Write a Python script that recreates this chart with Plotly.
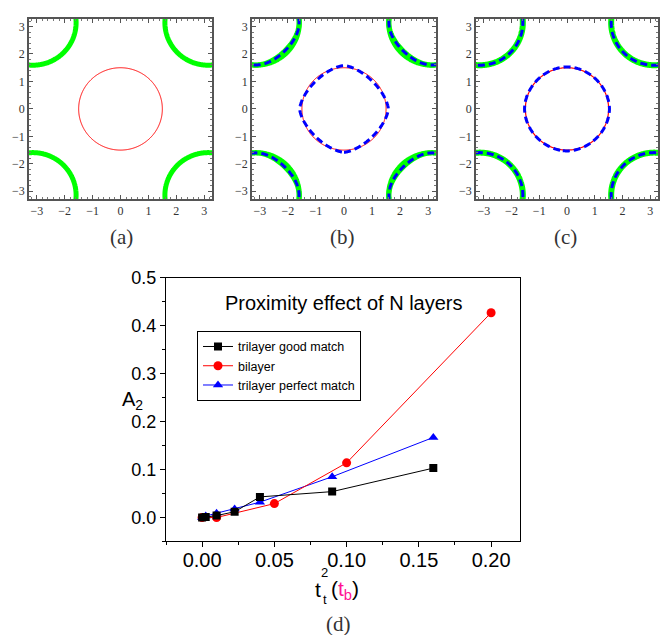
import numpy as np
import plotly.graph_objects as go

# ---------------- data: panel (d) ----------------
good_x = [0.0, 0.0025, 0.01, 0.0225, 0.04, 0.09, 0.16]
good_y = [0.0, 0.001, 0.004, 0.012, 0.043, 0.054, 0.103]
bi_x = [0.0, 0.01, 0.05, 0.10, 0.20]
bi_y = [0.0, 0.0, 0.029, 0.114, 0.427]
perf_x = [0.0, 0.0025, 0.01, 0.0225, 0.04, 0.09, 0.16]
perf_y = [0.0, 0.003, 0.009, 0.018, 0.032, 0.085, 0.167]

# ---------------- Fermi surface parameters: panels (a)-(c) ----------------
red_radius = 1.5            # central circular pocket
corner_radius = 1.55        # corner pockets (circle around (±pi, ±pi))
tb_corner_level = -1.03     # cos kx + cos ky contour near corners
b_center_a, b_center_p = 1.58, 1.55   # hybridised central pocket (b)
c_center_a, c_center_p = 1.53, 1.9    # hybridised central pocket (c)
top_ticks = [-3, -2, -1, 0, 1, 2, 3]

W, H = 668, 635
def px(x):
    return x / W
def py(y):
    return 1 - y / H

k = np.linspace(-3.6, 3.6, 361)
KX, KY = np.meshgrid(k, k)
Z_circle = KX**2 + KY**2
Z_corner = (np.pi - np.abs(KX))**2 + (np.pi - np.abs(KY))**2
Z_tb = np.cos(KX) + np.cos(KY)

def contour(z, level, color, width, dash="solid", xa="x", ya="y"):
    return go.Contour(
        x=k, y=k, z=z, xaxis=xa, yaxis=ya, showscale=False, hoverinfo="skip",
        contours=dict(start=level, end=level, size=1, coloring="none"),
        line=dict(color=color, width=width, dash=dash, smoothing=1),
        showlegend=False,
    )

GREEN = "#00ff00"
RED = "#ff0000"
BLUE = "#0000ff"
DASH = "7px,4px"

traces = []
# (a)
traces.append(contour(Z_corner, corner_radius**2, GREEN, 5, xa="x", ya="y"))
traces.append(contour(Z_circle, red_radius**2, RED, 1, xa="x", ya="y"))
# (b)
traces.append(contour(Z_corner, corner_radius**2, GREEN, 5, xa="x2", ya="y2"))
traces.append(contour(Z_tb, tb_corner_level, GREEN, 5, xa="x2", ya="y2"))
traces.append(contour(Z_tb, tb_corner_level, BLUE, 3, DASH, xa="x2", ya="y2"))
traces.append(contour(Z_circle, red_radius**2, RED, 1, xa="x2", ya="y2"))
Zb = np.abs(KX)**b_center_p + np.abs(KY)**b_center_p
traces.append(contour(Zb, b_center_a**b_center_p, BLUE, 3, DASH, xa="x2", ya="y2"))
# (c)
traces.append(contour(Z_corner, corner_radius**2, GREEN, 6, xa="x3", ya="y3"))
traces.append(contour(Z_corner, corner_radius**2, BLUE, 3, DASH, xa="x3", ya="y3"))
traces.append(contour(Z_circle, red_radius**2, RED, 1.2, xa="x3", ya="y3"))
Zc = np.abs(KX)**c_center_p + np.abs(KY)**c_center_p
traces.append(contour(Zc, c_center_a**c_center_p, BLUE, 3, DASH, xa="x3", ya="y3"))

# (d)
traces.append(go.Scatter(x=perf_x, y=perf_y, mode="lines+markers", name="trilayer perfect match",
                         xaxis="x4", yaxis="y4", legendrank=3,
                         line=dict(color=BLUE, width=1),
                         marker=dict(symbol="triangle-up", size=9, color=BLUE)))
traces.append(go.Scatter(x=bi_x, y=bi_y, mode="lines+markers", name="bilayer",
                         xaxis="x4", yaxis="y4", legendrank=2,
                         line=dict(color=RED, width=1),
                         marker=dict(symbol="circle", size=9, color=RED)))
traces.append(go.Scatter(x=good_x, y=good_y, mode="lines+markers", name="trilayer good match",
                         xaxis="x4", yaxis="y4", legendrank=1,
                         line=dict(color="black", width=1),
                         marker=dict(symbol="square", size=8, color="black")))

fig = go.Figure(traces)

SERIF = "Liberation Serif, Times New Roman, serif"
SANS = "Liberation Sans, Arial, sans-serif"

def top_axis(domain, anchor):
    return dict(
        domain=domain, anchor=anchor, range=[-3.28, 3.28],
        tickmode="array", tickvals=top_ticks, ticktext=[("−%d" % -t) if t < 0 else str(t) for t in top_ticks],
        ticks="inside", ticklen=4, tickwidth=1, tickcolor="#555",
        minor=dict(dtick=0.2, ticks="inside", ticklen=2, tickcolor="#777"),
        showline=True, linecolor="#555", linewidth=1.5, mirror="allticks",
        showgrid=False, zeroline=False,
        tickfont=dict(family=SERIF, size=12, color="#333"),
    )

ytop = [py(192), py(9)]
fig.update_layout(
    width=W, height=H, margin=dict(l=0, r=0, t=0, b=0),
    paper_bgcolor="white", plot_bgcolor="white",
    xaxis=top_axis([px(29), px(212)], "y"),
    yaxis=top_axis(ytop, "x"),
    xaxis2=top_axis([px(252), px(436)], "y2"),
    yaxis2=top_axis(ytop, "x2"),
    xaxis3=top_axis([px(476), px(658)], "y3"),
    yaxis3=top_axis(ytop, "x3"),
    xaxis4=dict(
        domain=[px(166), px(520)], anchor="y4", range=[-0.025, 0.22],
        dtick=0.05, tick0=0, tickformat=".2f",
        ticks="outside", ticklen=5, tickwidth=1, tickcolor="black",
        minor=dict(dtick=0.025, ticks="outside", ticklen=3, tickcolor="black"),
        showline=True, linecolor="black", linewidth=1, mirror=True,
        showgrid=False, zeroline=False, ticklabelstandoff=-4,
        tickfont=dict(family=SANS, size=20, color="black"),
    ),
    yaxis4=dict(
        domain=[py(540), py(272)], anchor="x4", range=[-0.05, 0.5],
        dtick=0.1, tick0=0, tickformat=".1f",
        ticks="outside", ticklen=5, tickwidth=1, tickcolor="black",
        minor=dict(dtick=0.05, ticks="outside", ticklen=3, tickcolor="black"),
        showline=True, linecolor="black", linewidth=1, mirror=True,
        showgrid=False, zeroline=False,
        tickfont=dict(family=SANS, size=18, color="black"),
    ),
    legend=dict(
        x=px(197), y=py(326), xanchor="left", yanchor="top",
        bgcolor="white", bordercolor="black", borderwidth=1,
        font=dict(family=SANS, size=12.5, color="black"),
        tracegroupgap=0, itemwidth=30,
    ),
    showlegend=True,
)

ann = []
def add(text, x, y, size, family=SERIF, color="#333", xanchor="center", yanchor="middle"):
    ann.append(dict(text=text, x=px(x), y=py(y), xref="paper", yref="paper",
                    showarrow=False, xanchor=xanchor, yanchor=yanchor,
                    font=dict(family=family, size=size, color=color)))

add("(a)", 121, 231, 21)
add("(b)", 342, 231, 21)
add("(c)", 565, 231, 21)
add("(d)", 338, 624, 21)
add("Proximity effect of N layers", 343, 298, 20, SANS, "black")
add("A<sub>2</sub>", 132, 397, 20, SANS, "black")
# x-axis title  t_t^2 (t_b)
add("t", 318, 589, 21, SANS, "black")
add("2", 324.5, 571, 13, SANS, "black")
add("t", 324.5, 599, 13, SANS, "black")
add("(<span style='color:#ff1493'>t<sub>b</sub></span>)", 329, 589, 21, SANS, "black", xanchor="left")
fig.update_layout(annotations=ann)

fig.write_html(
    "out.html",
    config={"displayModeBar": False},
    post_script="document.body.style.margin='0';document.body.style.padding='0';"
                "document.documentElement.style.overflow='hidden';",
)
